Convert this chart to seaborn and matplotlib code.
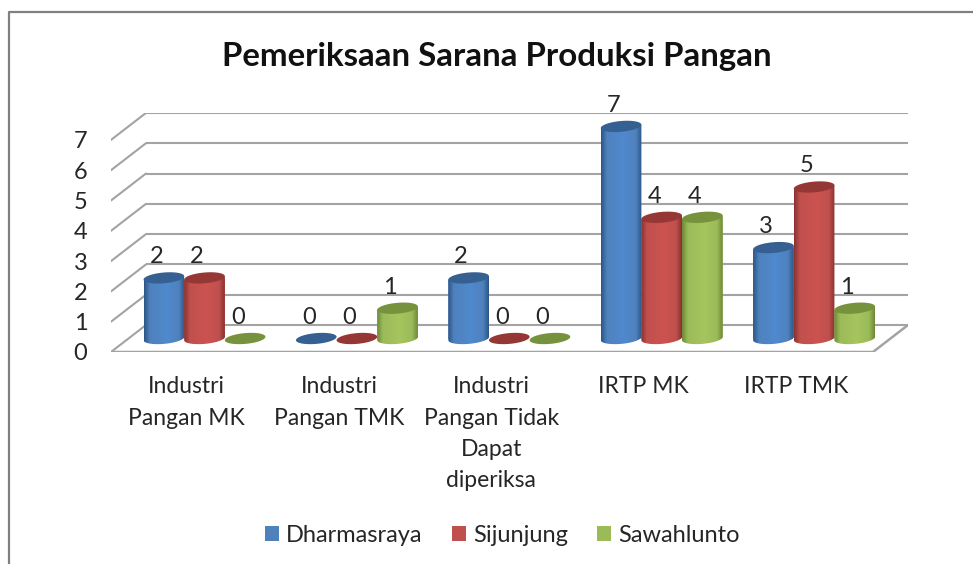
import numpy as np
import pandas as pd
import seaborn as sns
import matplotlib
matplotlib.use("Agg")
import matplotlib.pyplot as plt
from matplotlib.colors import to_rgb
from matplotlib.lines import Line2D
from matplotlib.patches import PathPatch, Polygon
from matplotlib.path import Path
from matplotlib.transforms import ScaledTranslation

categories = ["Industri\nPangan MK", "Industri\nPangan TMK", "Industri\nPangan Tidak\nDapat\ndiperiksa", "IRTP MK", "IRTP TMK"]
series_names = ["Dharmasraya", "Sijunjung", "Sawahlunto"]
dharmasraya = [2, 0, 2, 7, 3]
sijunjung = [2, 0, 0, 4, 5]
sawahlunto = [0, 1, 0, 4, 1]
y_ticks = [0, 1, 2, 3, 4, 5, 6, 7]
title = "Pemeriksaan Sarana Produksi Pangan"
face_colors = ["#4F81BD", "#C0504D", "#9BBB59"]
edge_colors = ["#2C5687", "#8A3230", "#6E8A38"]
light_colors = ["#5089CE", "#CC5350", "#A6C55E"]
top_colors = ["#376092", "#953735", "#76923C"]

FONT = "Lato"
W, H = 973, 564
sns.set_theme(style="white")
plt.rcParams["font.family"] = [FONT, "DejaVu Sans"]

df = pd.DataFrame({
    "cat": categories * 3,
    "series": np.repeat(series_names, len(categories)),
    "value": dharmasraya + sijunjung + sawahlunto,
})

fig = plt.figure(figsize=(W / 100, H / 100), dpi=100)
# axes in pixels: left 111, right 908, top 113, bottom 352
ax = fig.add_axes([111 / W, 1 - 352 / H, (908 - 111) / W, (352 - 113) / H])
sns.barplot(data=df, x="cat", y="value", hue="series", order=categories, hue_order=series_names,
            palette=face_colors, width=0.8, ax=ax, linewidth=0, saturation=1, errorbar=None)

PX_X = 152.4
PX_Y = 30.3
ax.set_xlim((111 - 204.5) / PX_X, (908 - 204.5) / PX_X)
ax.set_ylim((338.5 - 352) / PX_Y, (338.5 - 113) / PX_Y)
depth_y = 13.5 / PX_Y
back_left = (146 - 204.5) / PX_X
front_left = ax.get_xlim()[0]
back_right = ax.get_xlim()[1]
front_right = (873 - 204.5) / PX_X
for s in ax.spines.values():
    s.set_visible(False)
ax.patch.set_alpha(0)
ax.set_xlabel("")
ax.set_ylabel("")

# 3D wall and floor lines
grid_c = "#A3A3A3"
for v in y_ticks:
    ax.plot([back_left, back_right], [v + depth_y] * 2, color=grid_c, lw=1.5, zorder=0.5, solid_capstyle="butt")
    ax.plot([front_left, back_left], [v - depth_y, v + depth_y], color=grid_c, lw=1.5, zorder=0.5)
ax.plot([front_left, front_right, back_right], [-depth_y, -depth_y, depth_y], color=grid_c, lw=1.8, zorder=0.6)

# Ticks
ax.set_yticks([v - depth_y for v in y_ticks], [str(v) for v in y_ticks], fontsize=17, color="#262626")
ax.tick_params(axis="y", length=0, pad=17)
ax.set_xticks(range(len(categories)), categories, fontsize=16.5, color="#262626", linespacing=1.6, va="top")
ax.tick_params(axis="x", length=0, pad=17.5)
shift = ScaledTranslation(-18 / 100, 0, fig.dpi_scale_trans)
for lab in ax.get_xticklabels():
    lab.set_transform(lab.get_transform() + shift)

# Cylinder shading built on the seaborn bars
B = 5.4 / PX_Y
K = 1.7 / PX_Y
bars = [p for c in ax.containers for p in c]
ncat = len(categories)
xlim, ylim = ax.get_xlim(), ax.get_ylim()
for i, bar in enumerate(bars):
    k = i // ncat
    x0, w, v = bar.get_x(), bar.get_width(), bar.get_height()
    cx, a = x0 + w / 2, w / 2
    t = np.linspace(np.pi, 2 * np.pi, 40)
    low = np.column_stack([cx + a * np.cos(t), K * np.cos(t) + B * np.sin(t)])
    z = 3 + i * 0.01
    if v > 0:
        body = np.vstack([[x0, v - K], low, [x0 + w, v + K], [x0, v - K]])
        clip = PathPatch(Path(body), transform=ax.transData)
        xs = np.linspace(0, 1, 64)
        stops = [0, 0.14, 0.55, 0.86, 1]
        cols = [edge_colors[k], face_colors[k], light_colors[k], face_colors[k], edge_colors[k]]
        rgb = np.array([to_rgb(c) for c in cols])
        grad = np.stack([np.interp(xs, stops, rgb[:, j]) for j in range(3)], axis=1)[None, :, :]
        im = ax.imshow(grad, extent=[x0, x0 + w, -0.3, v + 0.3], aspect="auto", zorder=z, interpolation="bilinear")
        im.set_clip_path(clip)
        bar.set_clip_path(clip)
    t2 = np.linspace(0, 2 * np.pi, 80)
    top = np.column_stack([cx + a * np.cos(t2), v + K * np.cos(t2) + B * np.sin(t2)])
    ax.add_patch(Polygon(top, closed=True, facecolor=top_colors[k], edgecolor="none", zorder=z + 0.001))
    ax.annotate(f"{int(v)}", (cx, v), xytext=(-7.5 * 0.72, 21 * 0.72), textcoords="offset points",
                ha="center", va="center", fontsize=17, color="#262626", zorder=6)
ax.set_xlim(xlim)
ax.set_ylim(ylim)

# Legend
sns.move_legend(ax, "center", bbox_to_anchor=(502.5 / W, 1 - 535 / H), bbox_transform=fig.transFigure,
                ncol=3, frameon=False, title=None, fontsize=17, handlelength=0.6, handleheight=0.6,
                handletextpad=0.3, columnspacing=1.23, labelcolor="#262626")

fig.text(497 / W, 1 - 56.5 / H, title, ha="center", va="center", fontsize=23.8, fontweight="bold", color="#111111")

# Frame
fig.add_artist(Line2D([8.5 / W, 8.5 / W, 973 / W], [0, 1 - 11.5 / H, 1 - 11.5 / H], color="#808080", lw=1.6,
                      transform=fig.transFigure))

fig.savefig("out.png", dpi=100)
